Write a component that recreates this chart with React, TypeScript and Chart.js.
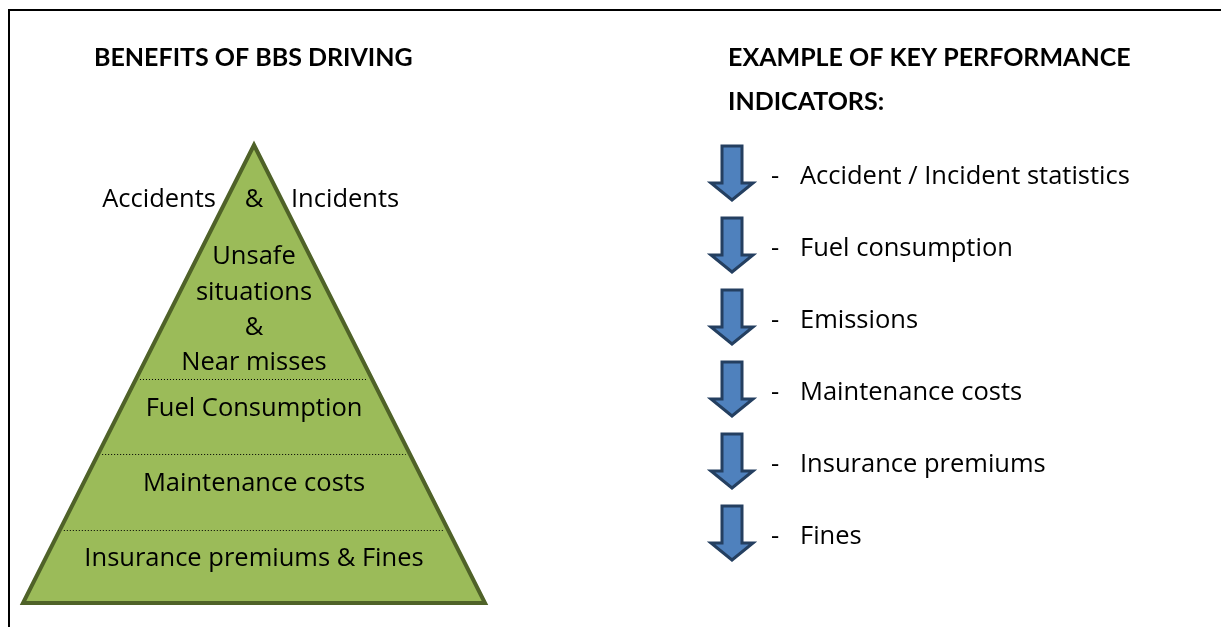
import React, { useEffect, useRef } from "react";
import { Chart, registerables } from "chart.js";

Chart.register(...registerables);

// ---- data ----
const pyramidApex = { x: 254, y: 145 };
const pyramidBaseY = 603;
const pyramidBaseX = [23, 485];
const levelLinesY = [379, 454, 530];

const leftTitle = "BENEFITS OF BBS DRIVING";
const leftTitleX = 94;
const leftTitleY = 58;

const topLabels = ["Accidents", "&", "Incidents"];
const topLabelX = [216, 254, 291];
const topLabelAlign = ["right", "center", "left"];
const topLabelY = 200;

const pyramidLabels = [
  "Unsafe",
  "situations",
  "&",
  "Near misses",
  "Fuel Consumption",
  "Maintenance costs",
  "Insurance premiums & Fines",
];
const pyramidLabelY = [257, 293, 328, 363, 409, 484, 559];

const rightTitleLines = ["EXAMPLE OF KEY PERFORMANCE", "INDICATORS:"];
const rightTitleX = 728;
const rightTitleY = [58, 102];

const kpiLabels = [
  "Accident / Incident statistics",
  "Fuel consumption",
  "Emissions",
  "Maintenance costs",
  "Insurance premiums",
  "Fines",
];
const kpiY = [177, 249, 321, 393, 465, 537];
const arrowX = 732;
const dashX = 776;
const kpiTextX = 800;

const W = 1221;
const H = 627;

const TITLE_FONT = "Lato, 'Open Sans', sans-serif";
const BODY_FONT = "'Open Sans', Lato, sans-serif";

function edgeX(y: number, side: number) {
  const bx = pyramidBaseX[side];
  const t = (y - pyramidApex.y) / (pyramidBaseY - pyramidApex.y);
  return pyramidApex.x + (bx - pyramidApex.x) * t;
}

const overlayPlugin = {
  id: "overlay",
  afterDatasetsDraw(chart: any) {
    const { ctx } = chart;
    const xs = chart.scales.x;
    const ys = chart.scales.y;
    const px = (v: number) => xs.getPixelForValue(v);
    const py = (v: number) => ys.getPixelForValue(v);
    ctx.save();
    ctx.fillStyle = "#000";
    ctx.textBaseline = "middle";

    // titles
    ctx.font = `bold 25px ${TITLE_FONT}`;
    ctx.textAlign = "left";
    ctx.fillText(leftTitle, px(leftTitleX), py(leftTitleY));
    rightTitleLines.forEach((t, i) => ctx.fillText(t, px(rightTitleX), py(rightTitleY[i])));

    // pyramid labels
    ctx.font = `25.5px ${BODY_FONT}`;
    topLabels.forEach((t, i) => {
      ctx.textAlign = topLabelAlign[i];
      ctx.fillText(t, px(topLabelX[i]), py(topLabelY));
    });
    ctx.textAlign = "center";
    pyramidLabels.forEach((t, i) => ctx.fillText(t, px(pyramidApex.x), py(pyramidLabelY[i])));

    // KPI arrows and labels
    kpiY.forEach((y, i) => {
      const cx = px(arrowX);
      const cy = py(y);
      const ay = cy - 1;
      ctx.beginPath();
      ctx.moveTo(cx - 10, ay - 30);
      ctx.lineTo(cx + 10, ay - 30);
      ctx.lineTo(cx + 10, ay + 7);
      ctx.lineTo(cx + 21, ay + 7);
      ctx.lineTo(cx, ay + 24);
      ctx.lineTo(cx - 21, ay + 7);
      ctx.lineTo(cx - 10, ay + 7);
      ctx.closePath();
      ctx.fillStyle = "#4f81bd";
      ctx.fill();
      ctx.lineWidth = 3;
      ctx.lineJoin = "miter";
      ctx.strokeStyle = "#243f60";
      ctx.stroke();

      ctx.fillStyle = "#000";
      ctx.textAlign = "left";
      ctx.fillText("-", px(dashX - 5), cy);
      ctx.fillText(kpiLabels[i], px(kpiTextX), cy);
    });
    ctx.restore();
  },
};

export default function App() {
  const ref = useRef<HTMLCanvasElement>(null);
  useEffect(() => {
    const triangle = [
      { x: pyramidApex.x, y: pyramidBaseY },
      { x: pyramidBaseX[1], y: pyramidBaseY },
      { x: pyramidApex.x, y: pyramidApex.y },
      { x: pyramidBaseX[0], y: pyramidBaseY },
      { x: pyramidApex.x, y: pyramidBaseY },
    ];
    const levelSets = levelLinesY.map((y) => ({
      type: "line" as const,
      data: [
        { x: edgeX(y, 0) + 4, y: y + 0.5 },
        { x: edgeX(y, 1) - 4, y: y + 0.5 },
      ],
      showLine: true,
      borderColor: "#000",
      borderWidth: 1,
      borderDash: [1, 2],
      pointRadius: 0,
      fill: false,
      order: 0,
    }));
    const chart = new Chart(ref.current!, {
      type: "scatter",
      data: {
        datasets: [
          ...(levelSets as any[]),
          {
            type: "line",
            data: [
              { x: 9, y: 700 },
              { x: 9, y: 10 },
              { x: 1300, y: 10 },
            ],
            showLine: true,
            borderColor: "#000",
            borderWidth: 2,
            pointRadius: 0,
            fill: false,
            borderJoinStyle: "miter",
            order: 1,
          } as any,
          {
            type: "line",
            data: triangle,
            showLine: true,
            borderColor: "#4f6228",
            backgroundColor: "#9bbb59",
            borderWidth: 4,
            borderJoinStyle: "miter",
            pointRadius: 0,
            fill: "shape",
            order: 2,
          } as any,
        ],
      },
      options: {
        animation: false,
        responsive: false,
        maintainAspectRatio: false,
        layout: { padding: 0 },
        scales: {
          x: { type: "linear", min: 0, max: W, display: false },
          y: { type: "linear", min: 0, max: H, reverse: true, display: false },
        },
        plugins: { legend: { display: false }, tooltip: { enabled: false } },
        events: [],
      },
      plugins: [overlayPlugin],
    });
    return () => chart.destroy();
  }, []);
  return (
    <div style={{ position: "fixed", left: 0, top: 0, width: W, height: H, background: "#fff" }}>
      <canvas ref={ref} width={W} height={H} style={{ width: W, height: H, display: "block" }} />
    </div>
  );
}
